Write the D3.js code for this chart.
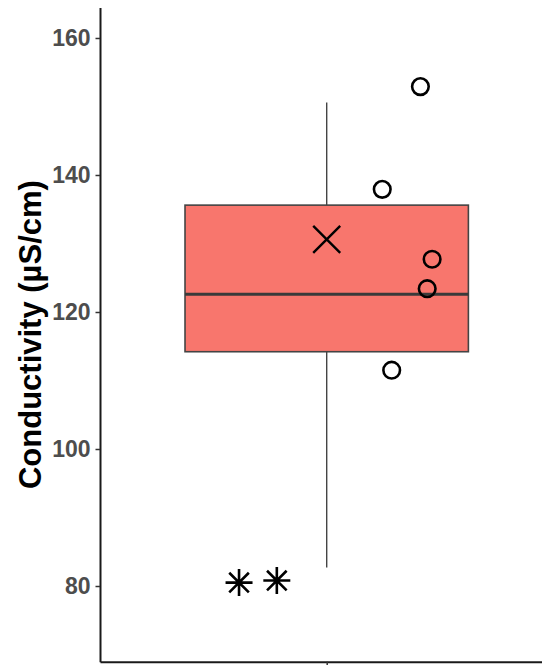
<!DOCTYPE html>
<html>
<head>
<meta charset="utf-8">
<script src="https://cdn.jsdelivr.net/npm/d3@7"></script>
<style>
  html, body { margin: 0; padding: 0; background: #fff; }
  svg { display: block; }
</style>
</head>
<body>
<svg id="chart" width="542" height="665"></svg>
<script>
// ---- data ----
const categories = [1];
const quartiles = [114.2, 122.6, 135.6];   // Q1, median, Q3
const whiskers = [82.7, 150.6];            // lower, upper
const meanValue = 130.6;
const pointValues = [152.9, 137.9, 127.7, 123.4, 111.5];
const pointJitter = [0.248, 0.147, 0.279, 0.266, 0.172];
const extremeValues = [80.5, 80.8];
const extremeJitter = [-0.232, -0.132];
const yTicks = [80, 100, 120, 140, 160];
const yLabel = "Conductivity (µS/cm)";

// ---- layout ----
const svg = d3.select("#chart");
const mLeft = 100, mRight = 553.4, mTop = 7.5, mBottom = 661.7;
const font = "'Liberation Sans', Arial, Helvetica, sans-serif";

const y = d3.scaleLinear().domain([68.95, 164.45]).range([mBottom, mTop]);
const x = d3.scaleLinear().domain([0.4, 1.6]).range([mLeft, mRight]);
const boxHalf = 0.375;

const g = svg.append("g");

categories.forEach(c => {
  // whiskers
  g.append("line")
    .attr("x1", x(c)).attr("x2", x(c))
    .attr("y1", y(whiskers[1])).attr("y2", y(quartiles[2]))
    .attr("stroke", "#444").attr("stroke-width", 1.4);
  g.append("line")
    .attr("x1", x(c)).attr("x2", x(c))
    .attr("y1", y(quartiles[0])).attr("y2", y(whiskers[0]))
    .attr("stroke", "#444").attr("stroke-width", 1.4);
  // box
  g.append("rect")
    .attr("x", x(c - boxHalf)).attr("width", x(c + boxHalf) - x(c - boxHalf))
    .attr("y", y(quartiles[2])).attr("height", y(quartiles[0]) - y(quartiles[2]))
    .attr("fill", "#F8766D").attr("stroke", "#444").attr("stroke-width", 1.6);
  // median
  g.append("line")
    .attr("x1", x(c - boxHalf)).attr("x2", x(c + boxHalf))
    .attr("y1", y(quartiles[1])).attr("y2", y(quartiles[1]))
    .attr("stroke", "#3a3a3a").attr("stroke-width", 3);
  // mean X
  const mx = x(c), my = y(meanValue), h = 13.5;
  g.append("path")
    .attr("d", `M${mx-h},${my-h}L${mx+h},${my+h}M${mx-h},${my+h}L${mx+h},${my-h}`)
    .attr("stroke", "#000").attr("stroke-width", 2.4).attr("fill", "none");
  // circles
  g.selectAll("circle.pt").data(pointValues).join("circle")
    .attr("class", "pt")
    .attr("cx", (d, i) => x(c + pointJitter[i]))
    .attr("cy", d => y(d))
    .attr("r", 8.3)
    .attr("fill", "none").attr("stroke", "#000").attr("stroke-width", 2.6);
  // asterisks
  g.selectAll("path.ast").data(extremeValues).join("path")
    .attr("class", "ast")
    .attr("d", (d, i) => {
      const px = x(c + extremeJitter[i]), py = y(d), a = 13.5, b = 9.8;
      return `M${px-a},${py}L${px+a},${py}M${px},${py-a}L${px},${py+a}` +
             `M${px-b},${py-b}L${px+b},${py+b}M${px-b},${py+b}L${px+b},${py-b}`;
    })
    .attr("stroke", "#000").attr("stroke-width", 2.6).attr("fill", "none");
});

// y axis
const yAxis = g.append("g")
  .attr("transform", `translate(${mLeft},0)`)
  .call(d3.axisLeft(y).tickValues(yTicks).tickSize(4.5).tickSizeOuter(0).tickPadding(5));
yAxis.select(".domain").attr("stroke", "#1a1a1a").attr("stroke-width", 2);
yAxis.selectAll(".tick line").attr("stroke", "#333").attr("stroke-width", 1.5);
yAxis.selectAll(".tick text")
  .attr("fill", "#4d4d4d").attr("font-family", font)
  .attr("font-weight", "bold").attr("font-size", "23px");

// x axis
const xAxis = g.append("g")
  .attr("transform", `translate(0,${mBottom})`)
  .call(d3.axisBottom(x).tickValues(categories).tickFormat("").tickSize(5).tickSizeOuter(0));
xAxis.select(".domain").attr("stroke", "#1a1a1a").attr("stroke-width", 2);
xAxis.selectAll(".tick line").attr("stroke", "#333").attr("stroke-width", 1.5);

// y label
svg.append("text")
  .attr("transform", `translate(41,${(mTop + mBottom) / 2}) rotate(-90)`)
  .attr("text-anchor", "middle")
  .attr("font-family", font).attr("font-weight", "bold")
  .attr("font-size", "31px").attr("fill", "#000")
  .text(yLabel);
</script>
</body>
</html>
